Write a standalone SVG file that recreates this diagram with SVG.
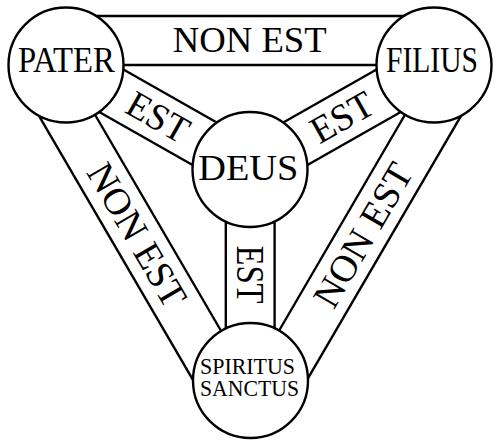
<svg xmlns="http://www.w3.org/2000/svg" width="500" height="447" viewBox="0 0 500 447">
<style>
.ln{stroke:#000;stroke-width:2.4;fill:none;stroke-linecap:butt}
.c{fill:#fff;stroke:#000;stroke-width:2.4}
text{font-family:"Liberation Serif","Times New Roman",serif;fill:#000;text-anchor:middle}
.big{font-size:36px}
.small{font-size:23px}
</style>
<rect width="500" height="447" fill="#fff"/>
<g id="connectors">
  <line class="ln" x1="66" y1="65" x2="434" y2="65"/>
  <line class="ln" x1="66" y1="16" x2="434" y2="16"/>
  <line class="ln" x1="66" y1="65" x2="250" y2="380.5"/>
  <line class="ln" x1="23.67" y1="89.69" x2="207.67" y2="405.19"/>
  <line class="ln" x1="434" y1="65" x2="250" y2="380.5"/>
  <line class="ln" x1="476.33" y1="89.69" x2="292.33" y2="405.19"/>
  <line class="ln" x1="53.9" y1="86.3" x2="237.9" y2="190.8"/>
  <line class="ln" x1="78.1" y1="43.7" x2="262.1" y2="148.2"/>
  <line class="ln" x1="446.1" y1="86.3" x2="262.1" y2="190.8"/>
  <line class="ln" x1="421.9" y1="43.7" x2="237.9" y2="148.2"/>
  <line class="ln" x1="225.8" y1="169.5" x2="225.8" y2="380.5"/>
  <line class="ln" x1="274.6" y1="169.5" x2="274.6" y2="380.5"/>
  <text class="big" x="249.7" y="52" textLength="154" lengthAdjust="spacingAndGlyphs">NON EST</text>
  <text transform="translate(158,117.3) rotate(29.6)" x="0" y="12.5" font-size="38" textLength="66" lengthAdjust="spacingAndGlyphs">EST</text>
  <text transform="translate(342,117.3) rotate(-29.6)" x="0" y="12.5" font-size="38" textLength="66" lengthAdjust="spacingAndGlyphs">EST</text>
  <text transform="translate(250.5,274.5) rotate(90)" x="0" y="13.8" font-size="41" textLength="58" lengthAdjust="spacingAndGlyphs">EST</text>
  <text transform="translate(136.8,235.1) rotate(59.7)" x="0" y="12.5" font-size="38" textLength="160" lengthAdjust="spacingAndGlyphs">NON EST</text>
  <text transform="translate(363.2,235.1) rotate(-59.7)" x="0" y="12.5" font-size="38" textLength="160" lengthAdjust="spacingAndGlyphs">NON EST</text>
</g>
<g id="pater">
  <circle class="c" cx="66" cy="65" r="57.5"/>
  <text class="big" x="66.4" y="72" textLength="97" lengthAdjust="spacingAndGlyphs">PATER</text>
</g>
<g id="filius">
  <circle class="c" cx="434" cy="65" r="57.5"/>
  <text class="big" x="432" y="72.3" textLength="92" lengthAdjust="spacingAndGlyphs">FILIUS</text>
</g>
<g id="deus">
  <circle class="c" cx="250" cy="169.5" r="57.5"/>
  <text class="big" x="248.3" y="179.5" textLength="100" lengthAdjust="spacingAndGlyphs">DEUS</text>
</g>
<g id="spiritus-sanctus">
  <circle class="c" cx="250.5" cy="380.5" r="57.5"/>
  <text class="small" x="247.5" y="373.5" textLength="95" lengthAdjust="spacingAndGlyphs">SPIRITUS</text>
  <text class="small" x="249.5" y="396.3" textLength="99" lengthAdjust="spacingAndGlyphs">SANCTUS</text>
</g>
</svg>
